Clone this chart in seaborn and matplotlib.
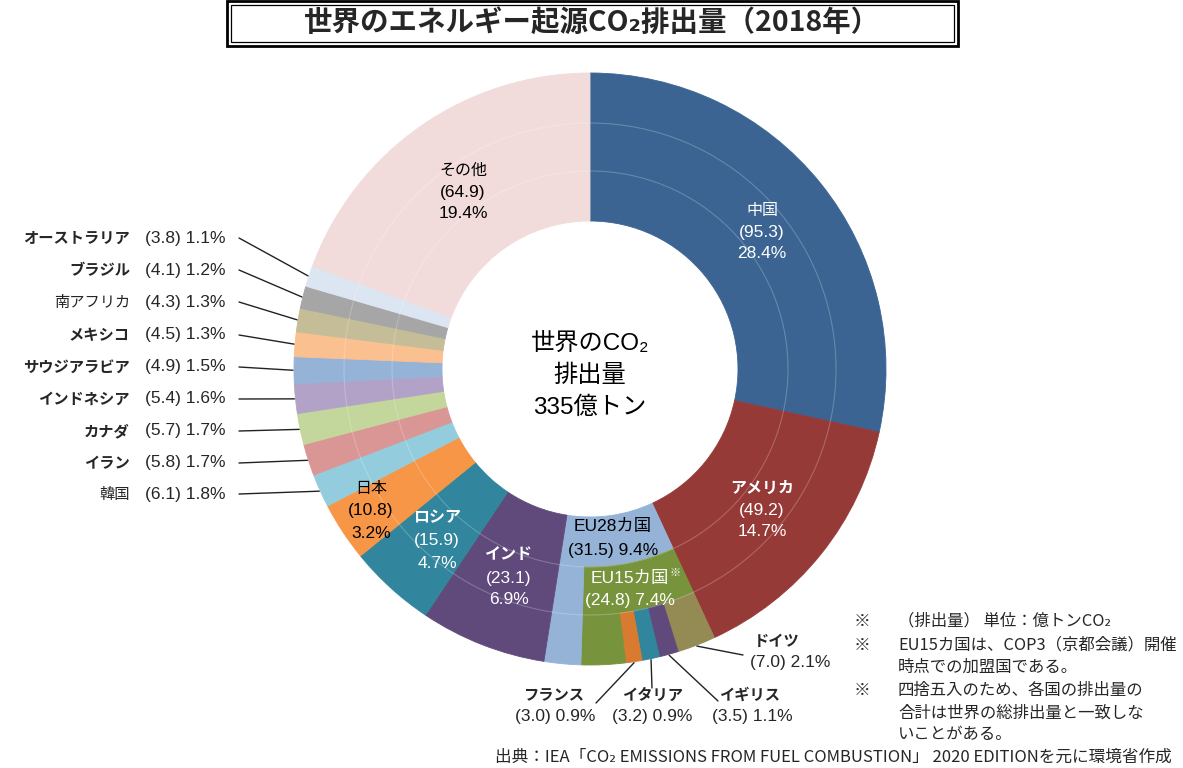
import numpy as np
import matplotlib
matplotlib.use("Agg")
import matplotlib.pyplot as plt
import seaborn as sns
from matplotlib.patches import Rectangle, Circle

# ─────────────────────────────────────────────
# 世界のエネルギー起源CO2排出量（2018年） — 3-ring donut
# ─────────────────────────────────────────────

sns.set_theme(style="white")
JP = ["Noto Sans CJK JP", "DejaVu Sans"]
LAT = ["Liberation Sans", "Noto Sans CJK JP", "DejaVu Sans"]
plt.rcParams["font.family"] = JP

# data (億トンCO2, %)
countries = ["中国", "アメリカ", "EU28カ国", "インド", "ロシア", "日本", "韓国", "イラン",
             "カナダ", "インドネシア", "サウジアラビア", "メキシコ", "南アフリカ",
             "ブラジル", "オーストラリア", "その他"]
emissions = [95.3, 49.2, 31.5, 23.1, 15.9, 10.8, 6.1, 5.8, 5.7, 5.4, 4.9, 4.5, 4.3, 4.1, 3.8, 64.9]
shares    = [28.4, 14.7, 9.4, 6.9, 4.7, 3.2, 1.8, 1.7, 1.7, 1.6, 1.5, 1.3, 1.3, 1.2, 1.1, 19.4]

eu15_emission = 24.8
eu15_share    = 7.4
eu_members          = ["ドイツ", "イギリス", "イタリア", "フランス"]
eu_member_emissions = [7.0, 3.5, 3.2, 3.0]
eu_member_shares    = [2.1, 1.1, 0.9, 0.9]

colors = ["#3B6492", "#963A38", "#95B3D7", "#604A7B", "#31859C", "#F79646", "#93CDDD",
          "#D99694", "#C3D69B", "#B3A2C7", "#95B3D7", "#FAC090", "#C4BD97", "#A6A6A6",
          "#DCE6F2", "#F2DCDB"]
EU15_COLOR = "#77933C"
eu_member_colors = ["#948A54", "#604A7B", "#31859C", "#D87A30"]

# ring values
eu28_rest = emissions[2] - eu15_emission
eu15_rest = eu15_emission - sum(eu_member_emissions)
inner_vals = emissions
mid_vals = emissions[:2] + [eu15_emission, eu28_rest] + emissions[3:]
mid_cols = colors[:2] + [EU15_COLOR, colors[2]] + colors[3:]
outer_vals = emissions[:2] + eu_member_emissions + [eu15_rest, eu28_rest] + emissions[3:]
outer_cols = colors[:2] + eu_member_colors + [EU15_COLOR, colors[2]] + colors[3:]
total = sum(emissions)

W, H = 1183, 768
fig = plt.figure(figsize=(W / 100, H / 100), dpi=100)
ax = fig.add_axes([0, 0, 1, 1])


def py(y):
    return H - y


CX, CY = 590, py(369)
R_IN, R1, R2, R_OUT = 148, 198, 246, 296


def ring(values, cols, r_out, width):
    wedges, _ = ax.pie(values, colors=cols, radius=r_out, center=(CX, CY),
                       startangle=90, counterclock=False,
                       wedgeprops=dict(width=width, linewidth=0.6))
    for w in wedges:
        w.set_edgecolor(w.get_facecolor())
    return wedges


ring(inner_vals, colors, R1, R1 - R_IN)
ring(mid_vals, mid_cols, R2, R2 - R1)
ring(outer_vals, outer_cols, R_OUT, R_OUT - R2)

# faint ring separators
for r in (R1, R2):
    ax.add_patch(Circle((CX, CY), r, fill=False, edgecolor="white",
                        linewidth=0.8, alpha=0.22, zorder=3))

ax.set_xlim(0, W)
ax.set_ylim(0, H)
ax.set_aspect("equal")
ax.axis("off")


def edge_point(cum_before, value, r=R_OUT + 1):
    th = np.deg2rad(90 - 360 * (cum_before + value / 2) / total)
    return CX + r * np.cos(th), CY + r * np.sin(th)


def stack(x, ys, lines, color="black", bold_first=False, name_size=11.5, num_size=12.5):
    for i, (y, s) in enumerate(zip(ys, lines)):
        ax.text(x, py(y), s, ha="center", va="center", color=color,
                fontsize=name_size if i == 0 else num_size,
                fontweight="bold" if (i == 0 and bold_first) else "normal",
                family=LAT, zorder=5)


def fmt(v):
    return f"({v:.1f})"


# labels inside the donut
stack(463, [170, 192, 214], ["その他", fmt(emissions[15]), f"{shares[15]}%"])
stack(762, [210, 232, 254], ["中国", fmt(emissions[0]), f"{shares[0]}%"], color="white")
stack(762, [488, 510, 531], ["アメリカ", fmt(emissions[1]), f"{shares[1]}%"], color="white", bold_first=True)
stack(613, [527, 550], ["EU28カ国", f"{fmt(emissions[2])} {shares[2]}%"], name_size=12.5)
stack(630, [578, 600], ["EU15カ国", f"{fmt(eu15_emission)} {eu15_share}%"], color="white", name_size=12.5)
ax.text(675, py(573), "※", ha="center", va="center", color="white", fontsize=8, zorder=5)
stack(509, [555, 578, 600], ["インド", fmt(emissions[3]), f"{shares[3]}%"], color="white", bold_first=True)
stack(437, [518, 541, 563], ["ロシア", fmt(emissions[4]), f"{shares[4]}%"], color="white", bold_first=True)
stack(371, [489, 511, 533], ["日本", fmt(emissions[5]), f"{shares[5]}%"])

# centre text
for y, s in zip([344, 376, 408], ["世界のCO₂", "排出量", "335億トン"]):
    ax.text(CX, py(y), s, ha="center", va="center", fontsize=17.5, family=LAT, color="black")

# left-hand list with leader lines
cum = np.concatenate([[0], np.cumsum(outer_vals)])
left_y = {6: 494, 7: 463, 8: 431, 9: 399, 10: 367, 11: 335, 12: 302, 13: 270, 14: 238}
katakana_bold = {7, 8, 9, 10, 11, 13, 14}
for i, y in left_y.items():
    k = i + 5  # index in outer ring
    ex, ey = edge_point(cum[k], outer_vals[k])
    ax.plot([239, ex], [py(y), ey], color="#222222", linewidth=1.0, zorder=4)
    ax.text(130, py(y), countries[i], ha="right", va="center", fontsize=11,
            fontweight="bold" if i in katakana_bold else "normal", family=JP)
    ax.text(145, py(y), f"{fmt(emissions[i])} {shares[i]}%", ha="left", va="center",
            fontsize=12.5, family=LAT)

# EU member labels
member_pos = {  # name xy, value xy, leader end
    0: ((777, 641), (790, 663), (743, 655)),
    1: ((750, 695), (752, 717), (718, 701)),
    2: ((653, 695), (652, 717), (652, 688)),
    3: ((554, 695), (555, 717), (596, 703)),
}
for j, ((nx, ny), (vx, vy), (lx, ly)) in member_pos.items():
    k = 2 + j
    ex, ey = edge_point(cum[k], outer_vals[k])
    ax.plot([ex, lx], [ey, py(ly)], color="#222222", linewidth=1.0, zorder=4)
    ax.text(nx, py(ny), eu_members[j], ha="center", va="center", fontsize=11,
            fontweight="bold", family=JP)
    ax.text(vx, py(vy), f"{fmt(eu_member_emissions[j])} {eu_member_shares[j]}%",
            ha="center", va="center", fontsize=12.5, family=LAT)

# notes
notes = [
    (621, "※", "（排出量） 単位：億トンCO₂"),
    (645, "※", "EU15カ国は、COP3（京都会議）開催"),
    (667, "", "時点での加盟国である。"),
    (690, "※", "四捨五入のため、各国の排出量の"),
    (713, "", "合計は世界の総排出量と一致しな"),
    (735, "", "いことがある。"),
]
for y, mark, s in notes:
    if mark:
        ax.text(862, py(y), mark, ha="center", va="center", fontsize=12, family=JP)
    ax.text(898, py(y), s, ha="left", va="center", fontsize=11.8, family=JP)

ax.text(1172, py(757), "出典：IEA「CO₂ EMISSIONS FROM FUEL COMBUSTION」 2020 EDITIONを元に環境省作成",
        ha="right", va="center", fontsize=12, family=JP)

# title box
ax.add_patch(Rectangle((227, py(46)), 731, 45, fill=False, edgecolor="black", linewidth=2.0))
ax.add_patch(Rectangle((231, py(42)), 723, 37, fill=False, edgecolor="black", linewidth=0.9))
ax.text(592, py(23), "世界のエネルギー起源CO₂排出量（2018年）", ha="center", va="center",
        fontsize=20.5, fontweight="bold", family=JP)

plt.savefig("out.png", dpi=100)
plt.close()
